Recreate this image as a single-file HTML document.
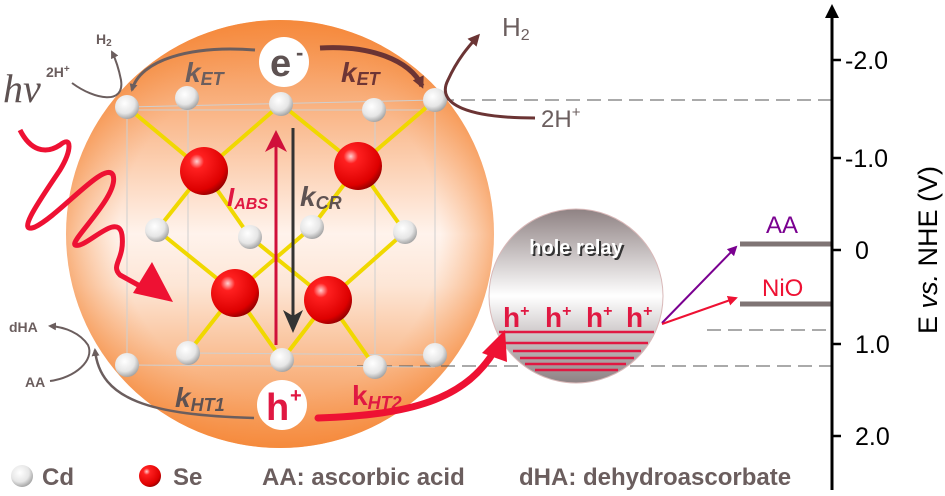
<!DOCTYPE html>
<html><head><meta charset="utf-8"><style>
html,body{margin:0;padding:0;background:#fff;}
svg{display:block;font-family:"Liberation Sans",sans-serif;}
</style></head><body>
<svg width="945" height="496" viewBox="0 0 945 496" xmlns="http://www.w3.org/2000/svg">
<defs>
<linearGradient id="og" x1="0" y1="0" x2="0" y2="1">
<stop offset="0" stop-color="#f5873a"/><stop offset="0.5" stop-color="#fff3ec"/><stop offset="0.62" stop-color="#fde6d6"/><stop offset="1" stop-color="#f58a3c"/>
</linearGradient>
<radialGradient id="og2" cx="0.5" cy="0.5" r="0.5"><stop offset="0.75" stop-color="#f8a060" stop-opacity="0"/><stop offset="1" stop-color="#f58a3c" stop-opacity="0.6"/></radialGradient>
<linearGradient id="hg" x1="0" y1="0" x2="0" y2="1">
<stop offset="0" stop-color="#8f8283"/><stop offset="0.5" stop-color="#ffffff"/><stop offset="1" stop-color="#8d8183"/>
</linearGradient>
<radialGradient id="cd" cx="0.4" cy="0.35" r="0.7"><stop offset="0" stop-color="#ffffff"/><stop offset="0.6" stop-color="#e6e6e6"/><stop offset="1" stop-color="#9a9a9a"/></radialGradient>
<radialGradient id="se" cx="0.35" cy="0.3" r="0.75"><stop offset="0" stop-color="#ffd0d0"/><stop offset="0.2" stop-color="#ff2020"/><stop offset="0.8" stop-color="#dd0000"/><stop offset="1" stop-color="#900000"/></radialGradient>
<marker id="mg" markerWidth="8" markerHeight="8" refX="6" refY="4" orient="auto" markerUnits="userSpaceOnUse"><path d="M0,0 L8,4 L0,8 Z" fill="#6b5e5e"/></marker>
<marker id="mp" markerWidth="10" markerHeight="10" refX="8" refY="5" orient="auto" markerUnits="userSpaceOnUse"><path d="M0,0 L10,5 L0,10 Z" fill="#7a0090"/></marker>
<marker id="mr" markerWidth="10" markerHeight="10" refX="8" refY="5" orient="auto" markerUnits="userSpaceOnUse"><path d="M0,0 L10,5 L0,10 Z" fill="#ee1133"/></marker>
<marker id="mb" markerWidth="12" markerHeight="12" refX="9" refY="6" orient="auto" markerUnits="userSpaceOnUse"><path d="M0,0 L12,6 L0,12 Z" fill="#6b3434"/></marker>
</defs>

<circle cx="280" cy="234" r="214" fill="url(#og)"/>
<circle cx="280" cy="234" r="214" fill="url(#og2)"/>

<g stroke="#555" stroke-width="1" stroke-dasharray="14,7" fill="none">
<line x1="440" y1="100" x2="832" y2="100"/>
<line x1="707" y1="330" x2="832" y2="330"/>
<line x1="357" y1="366" x2="832" y2="366"/>
</g>

<g stroke="#cfcfcf" stroke-width="1" fill="none">
<line x1="127" y1="107" x2="435" y2="100"/><line x1="127" y1="110" x2="435" y2="110"/>
<line x1="127" y1="107" x2="127" y2="365"/><line x1="435" y1="100" x2="435" y2="355"/>
<line x1="188" y1="98" x2="188" y2="353"/><line x1="375" y1="110" x2="375" y2="367"/>
<line x1="127" y1="365" x2="435" y2="367"/><line x1="188" y1="353" x2="435" y2="355"/>
</g>

<g stroke="#f0d800" stroke-width="4" stroke-linecap="round">
<line x1="127" y1="107" x2="204" y2="171"/><line x1="204" y1="171" x2="281" y2="104"/>
<line x1="281" y1="104" x2="358" y2="166"/><line x1="358" y1="166" x2="435" y2="100"/>
<line x1="204" y1="171" x2="157" y2="230"/><line x1="204" y1="171" x2="250" y2="237"/>
<line x1="358" y1="166" x2="312" y2="227"/><line x1="358" y1="166" x2="405" y2="232"/>
<line x1="235" y1="293" x2="157" y2="230"/><line x1="235" y1="293" x2="312" y2="227"/>
<line x1="235" y1="293" x2="188" y2="353"/><line x1="235" y1="293" x2="282" y2="360"/>
<line x1="328" y1="300" x2="250" y2="237"/><line x1="328" y1="300" x2="405" y2="232"/>
<line x1="328" y1="300" x2="282" y2="360"/><line x1="328" y1="300" x2="375" y2="367"/>
</g>

<g fill="url(#cd)">
<circle cx="127" cy="107" r="12"/><circle cx="187" cy="98" r="12"/><circle cx="281" cy="104" r="12"/><circle cx="374" cy="110" r="12"/><circle cx="435" cy="100" r="12"/>
<circle cx="157" cy="230" r="12"/><circle cx="250" cy="237" r="12"/><circle cx="312" cy="227" r="12"/><circle cx="405" cy="232" r="12"/>
<circle cx="127" cy="365" r="12"/><circle cx="188" cy="353" r="12"/><circle cx="282" cy="360" r="12"/><circle cx="375" cy="367" r="12"/><circle cx="435" cy="355" r="12"/>
</g>
<g fill="url(#se)">
<circle cx="204" cy="171" r="24"/><circle cx="358" cy="166" r="24"/><circle cx="235" cy="293" r="24"/><circle cx="328" cy="300" r="24"/>
</g>

<line x1="276" y1="345" x2="276" y2="140" stroke="#d0103a" stroke-width="3"/>
<path d="M265,152 L276,130 L287,152 L276,146 Z" fill="#d0103a"/>
<line x1="293" y1="128" x2="293" y2="320" stroke="#333" stroke-width="3"/>
<path d="M283,310 L293,333 L303,310 L293,316 Z" fill="#333"/>

<circle cx="284" cy="62" r="25" fill="#fff"/>
<text x="270" y="76" font-size="38" font-weight="bold" fill="#5e5252">e</text>
<text x="296" y="60" font-size="22" font-weight="bold" fill="#5e5252">-</text>
<circle cx="282" cy="405" r="25" fill="#fff"/>
<text x="266" y="420" font-size="38" font-weight="bold" fill="#e01842">h</text>
<text x="290" y="402" font-size="20" font-weight="bold" fill="#e01842">+</text>

<g font-weight="bold" font-style="italic">
<text x="185" y="82" font-size="28" fill="#6b5e5e">k<tspan font-size="18" dy="3">ET</tspan></text>
<text x="341" y="82" font-size="28" fill="#6e3535">k<tspan font-size="18" dy="3">ET</tspan></text>
<text x="227" y="206" font-size="26" fill="#e01842">I<tspan font-size="16" dy="3">ABS</tspan></text>
<text x="300" y="206" font-size="28" fill="#5e5252">k<tspan font-size="18" dy="3">CR</tspan></text>
<text x="175" y="407" font-size="28" fill="#5e5252">k<tspan font-size="18" dy="4">HT1</tspan></text>
<text x="352" y="405" font-size="28" fill="#e01842" font-style="normal">k<tspan font-size="18" dy="4" font-style="italic">HT2</tspan></text>
</g>

<path d="M255,50 C190,45 140,60 132,90" stroke="#6b5e5e" stroke-width="3" fill="none" marker-end="url(#mg)"/>
<path d="M320,48 C370,45 410,60 422,86" stroke="#6b3434" stroke-width="5" fill="none" marker-end="url(#mb)"/>

<path d="M72,83 C95,100 125,105 121,80 C118,65 115,58 112,52" stroke="#6b5e5e" stroke-width="2" fill="none" marker-end="url(#mg)"/>
<text x="96" y="44" font-size="14" font-weight="bold" fill="#6b5e5e">H<tspan font-size="10" dy="2">2</tspan></text>
<text x="46" y="77" font-size="14" font-weight="bold" fill="#6b5e5e">2H<tspan font-size="10" dy="-5">+</tspan></text>
<path d="M50,381 C75,378 95,360 88,345 C80,333 65,327 50,326" stroke="#6b5e5e" stroke-width="2" fill="none" marker-end="url(#mg)"/>
<text x="9" y="332" font-size="14" font-weight="bold" fill="#6b5e5e">dHA</text>
<text x="25" y="387" font-size="14" font-weight="bold" fill="#6b5e5e">AA</text>
<path d="M254,418 C150,415 100,400 95,350" stroke="#6b5e5e" stroke-width="2.5" fill="none" marker-end="url(#mg)"/>

<path d="M535,118 C470,118 435,105 448,80 C458,58 470,45 478,36" stroke="#6b3434" stroke-width="3" fill="none" marker-end="url(#mb)"/>
<text x="502" y="36" font-size="26" fill="#6b5e5e">H<tspan font-size="16" dy="4">2</tspan></text>
<text x="541" y="127" font-size="24" fill="#6b5e5e">2H<tspan font-size="15" dy="-10">+</tspan></text>

<text x="3" y="102" font-size="40" font-style="italic" font-family="Liberation Serif,serif" fill="#5e5252">hν</text>
<path d="M20,130 C30,150 45,155 60,145 C72,135 72,150 60,170 C40,200 15,235 35,227 C60,215 105,160 113,175 C120,195 70,240 75,245 C85,250 118,210 122,235 C125,260 110,265 120,275 L140,286" stroke="#ee1133" stroke-width="5" fill="none" stroke-linejoin="round"/>
<path d="M133,293 L152,262 L173,302 Z" fill="#ee1133"/>

<circle cx="576" cy="296" r="87" fill="url(#hg)" stroke="#d9b8b8" stroke-width="1"/>
<text x="578" y="256" text-anchor="middle" font-size="20" font-weight="bold" fill="#333">hole relay</text>
<text x="576" y="254" text-anchor="middle" font-size="20" font-weight="bold" fill="#fff">hole relay</text>
<g fill="#e01842" font-size="28" font-weight="bold">
<text x="503" y="327">h<tspan font-size="16" dy="-11">+</tspan></text>
<text x="545" y="327">h<tspan font-size="16" dy="-11">+</tspan></text>
<text x="586" y="327">h<tspan font-size="16" dy="-11">+</tspan></text>
<text x="626" y="327">h<tspan font-size="16" dy="-11">+</tspan></text>
</g>
<g stroke="#e01842" stroke-width="2.5">
<line x1="499" y1="332" x2="654" y2="332"/>
<line x1="505" y1="343" x2="648" y2="343"/>
<line x1="513" y1="351" x2="641" y2="351"/>
<line x1="520" y1="358" x2="634" y2="358"/>
<line x1="525" y1="364" x2="626" y2="364"/>
<line x1="535" y1="370" x2="618" y2="370"/>
</g>

<path d="M318,418 C410,415 465,400 495,350" stroke="#ee1133" stroke-width="7" fill="none" stroke-linecap="round"/>
<path d="M482,353 L505,330 L507,362 Z" fill="#ee1133"/>

<line x1="662" y1="323" x2="736" y2="247" stroke="#7a0090" stroke-width="2" marker-end="url(#mp)"/>
<line x1="662" y1="324" x2="736" y2="298" stroke="#ee1133" stroke-width="2" marker-end="url(#mr)"/>

<line x1="740" y1="244" x2="832" y2="244" stroke="#7f7474" stroke-width="5"/>
<line x1="740" y1="304" x2="832" y2="304" stroke="#7f7474" stroke-width="5"/>
<text x="766" y="233" font-size="24" fill="#7a0090">AA</text>
<text x="762" y="296" font-size="24" fill="#ee1133">NiO</text>

<line x1="832" y1="12" x2="832" y2="490" stroke="#000" stroke-width="3"/>
<path d="M825,18 L832,4 L839,18 Z" fill="#000"/>
<g stroke="#000" stroke-width="2.5">
<line x1="832" y1="60" x2="841" y2="60"/><line x1="832" y1="158" x2="841" y2="158"/>
<line x1="832" y1="250" x2="841" y2="250"/><line x1="832" y1="344" x2="841" y2="344"/>
<line x1="832" y1="436" x2="841" y2="436"/>
</g>
<g font-size="25" fill="#000">
<text x="845" y="69">-2.0</text><text x="845" y="167">-1.0</text>
<text x="855" y="259">0</text><text x="855" y="353">1.0</text><text x="855" y="445">2.0</text>
</g>
<text transform="translate(937,250) rotate(-90)" text-anchor="middle" font-size="27" fill="#000">E <tspan font-style="italic">vs.</tspan> NHE (V)</text>

<g font-size="24" font-weight="bold" fill="#6b5e5e">
<circle cx="22" cy="476" r="11" fill="url(#cd)"/>
<text x="42" y="485">Cd</text>
<circle cx="150" cy="476" r="11" fill="url(#se)"/>
<text x="173" y="485">Se</text>
<text x="262" y="485">AA: ascorbic acid</text>
<text x="519" y="485">dHA: dehydroascorbate</text>
</g>
</svg>
</body></html>
